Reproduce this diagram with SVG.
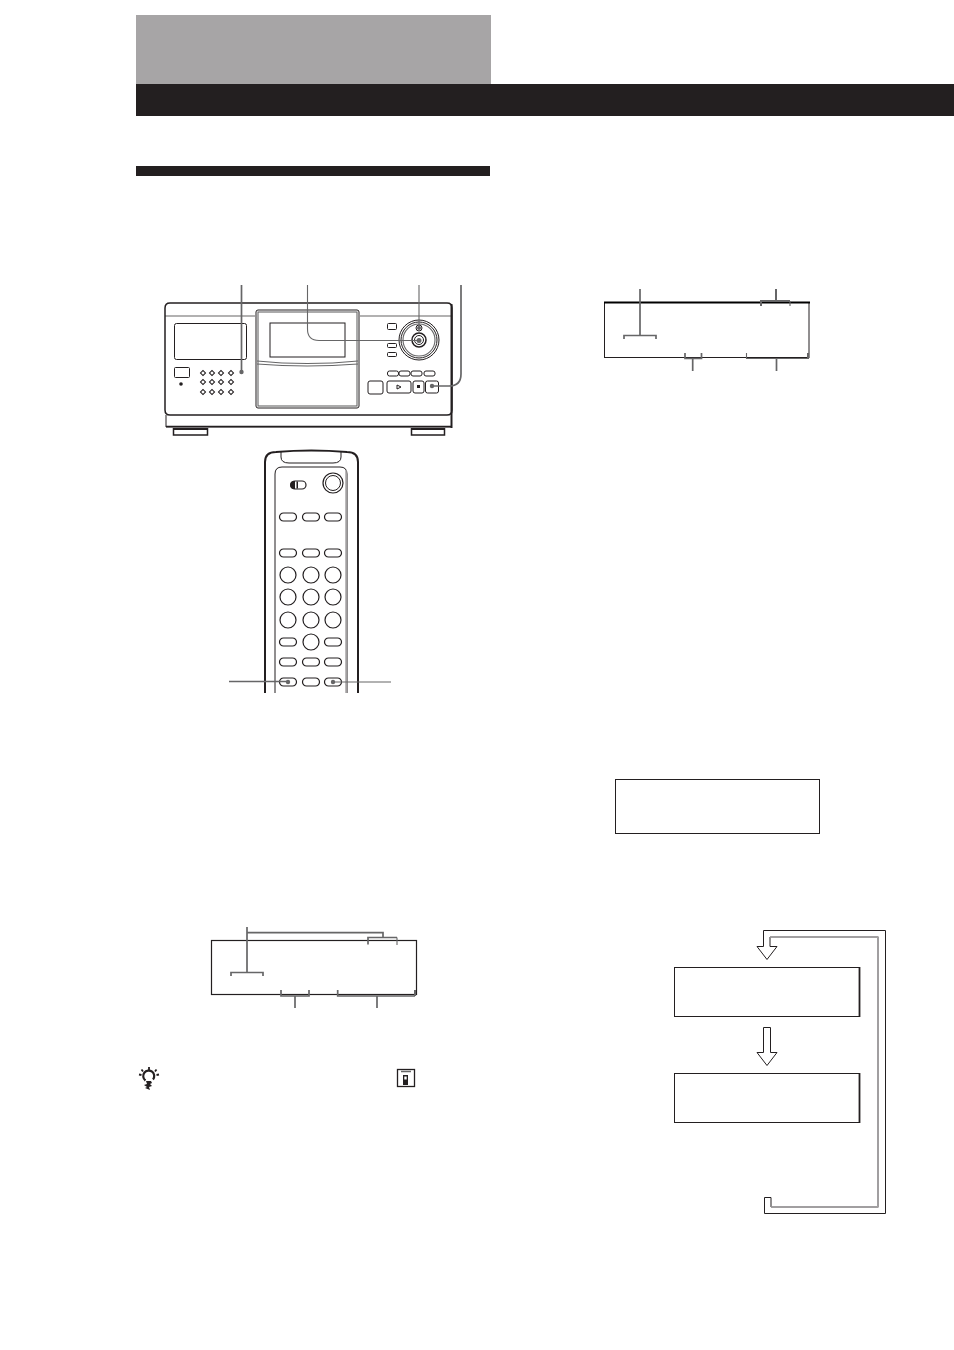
<svg xmlns="http://www.w3.org/2000/svg" width="954" height="1350" viewBox="0 0 954 1350">
<style>
.k{fill:none;stroke:#231f20;stroke-width:1}
.k2{fill:none;stroke:#231f20;stroke-width:1.5}
.g{fill:none;stroke:#666667;stroke-width:1.7}
.g1{fill:none;stroke:#666667;stroke-width:1.1}
.w{fill:#fff;stroke:#231f20;stroke-width:1}
.p{fill:#fff;stroke:#231f20;stroke-width:1.2}
.d{fill:#666667}
.a{fill:#fff;stroke:#231f20;stroke-width:1}
</style>
<defs>
<rect id="pill" x="-8.500" y="-4" width="17" height="8" rx="4" class="p"/>
<circle id="btn" r="8" class="p"/>
<rect id="dot" x="-1.800" y="-1.800" width="3.600" height="3.600" transform="rotate(45)" fill="#fff" stroke="#231f20" stroke-width="1"/>
</defs>
<rect width="954" height="1350" fill="#fff"/>
<g id="header">
<rect x="136" y="15" width="355" height="69" fill="#a7a5a6"/>
<rect x="136" y="84" width="818" height="32" fill="#231f20"/>
<rect x="136" y="166" width="354" height="10" fill="#231f20"/>
</g>
<g id="player">
<path d="M165 410V308Q165 303 170 303H447Q452 303 452 308V410Q452 415 447 415H170Q165 415 165 410Z" fill="#fff" stroke="#231f20" stroke-width="1.500"/>
<path d="M165 316H255M360 316H452" stroke="#231f20" stroke-width=".7"/>
<path d="M166 415V427H451" class="k"/>
<path d="M451.500 304V428" stroke="#231f20" stroke-width="2" fill="none"/>
<path d="M166 426.500H452" stroke="#231f20" stroke-width="1.500"/>
<path d="M173.500 428V435H207.500V428M411.500 428V435H444.500V428" fill="#fff" stroke="#231f20" stroke-width="1.500"/>
<path d="M173 429H208M411 429H445" stroke="#231f20" stroke-width="1.800"/>
<rect x="174.500" y="323.500" width="72" height="36" rx="2" class="k"/>
<rect x="256" y="310" width="103" height="98" rx="2" class="k"/>
<rect x="258" y="312" width="99" height="94" class="g1"/>
<rect x="270" y="323" width="75" height="34" class="k"/>
<path class="g1" d="M257 361Q307 366 358 361M257 364Q307 368 358 364"/>
<rect x="174.500" y="367.500" width="15" height="10" rx="1" class="k"/>
<circle cx="181" cy="384" r="1.800" fill="#231f20"/>
<g id="player-keys">
<use href="#dot" x="203" y="373"/><use href="#dot" x="212" y="373"/><use href="#dot" x="221" y="373"/><use href="#dot" x="231" y="373"/>
<use href="#dot" x="203" y="382"/><use href="#dot" x="212" y="382"/><use href="#dot" x="221" y="382"/><use href="#dot" x="231" y="382"/>
<use href="#dot" x="203" y="392"/><use href="#dot" x="212" y="392"/><use href="#dot" x="221" y="392"/><use href="#dot" x="231" y="392"/>
</g>
<rect x="387.500" y="323.500" width="9" height="6" rx="1" class="k"/>
<rect x="387.500" y="343.500" width="9" height="4" rx="1" class="k"/>
<rect x="387.500" y="352.500" width="9" height="4" rx="1" class="k"/>
<circle cx="419" cy="340" r="20" class="k"/>
<circle cx="419" cy="340" r="18" class="k"/>
<circle cx="419" cy="340" r="16" class="g1"/>
<circle cx="419" cy="340" r="7" class="k2"/>
<circle cx="419" cy="340" r="4.500" class="k"/>
<circle cx="419" cy="328" r="3" class="k"/>
<rect x="387.500" y="371" width="11" height="5" rx="2" class="k"/><rect x="399" y="371" width="11" height="5" rx="2" class="k"/><rect x="411" y="371" width="11" height="5" rx="2" class="k"/><rect x="424" y="371" width="11" height="5" rx="2" class="k"/>
<rect x="368" y="381" width="15" height="13" rx="2" class="k"/>
<rect x="387" y="381" width="24" height="12" rx="2" class="k"/>
<rect x="413" y="381" width="11" height="12" rx="2" class="k"/>
<rect x="425.500" y="381" width="13" height="12" rx="2" class="k"/>
<path d="M397 385l4 2-4 2z" class="k"/>
<rect x="417" y="385" width="3" height="3" fill="#231f20"/>
</g>
<g id="remote">
<path d="M265 693V462Q265 452 276 452Q311 449 347 452Q358 452 358 462V693" fill="#fff" stroke="#231f20" stroke-width="2"/>
<path d="M281 452V457Q281 463 289 463H333Q341 463 341 457V452" class="k"/>
<path d="M275 693V474Q275 467 282 467H340Q347 467 347 474V693" class="k"/>
<path d="M346 470V693" stroke="#a7a5a6" stroke-width="1.500"/>
<rect x="291" y="481" width="15" height="8" rx="4" class="p"/>
<path d="M295 481h-1a4 4 0 0 0 0 8h1zM296.500 481.500h1.500v7h-1.500z" fill="#231f20"/>
<circle cx="333" cy="483" r="10" fill="#fff" stroke="#231f20" stroke-width="1.200"/>
<circle cx="333" cy="483" r="7.500" class="k"/>
<use href="#pill" x="288" y="517"/><use href="#pill" x="311" y="517"/><use href="#pill" x="333" y="517"/>
<use href="#pill" x="288" y="553"/><use href="#pill" x="311" y="553"/><use href="#pill" x="333" y="553"/>
<use href="#btn" x="288" y="575"/><use href="#btn" x="311" y="575"/><use href="#btn" x="333" y="575"/>
<use href="#btn" x="288" y="597"/><use href="#btn" x="311" y="597"/><use href="#btn" x="333" y="597"/>
<use href="#btn" x="288" y="620"/><use href="#btn" x="311" y="620"/><use href="#btn" x="333" y="620"/>
<use href="#pill" x="288" y="642"/><use href="#btn" x="311" y="642"/><use href="#pill" x="333" y="642"/>
<use href="#pill" x="288" y="662"/><use href="#pill" x="311" y="662"/><use href="#pill" x="333" y="662"/>
<use href="#pill" x="288" y="682"/><use href="#pill" x="311" y="682"/><use href="#pill" x="333" y="682"/>
</g>
<g id="display-top">
<rect x="604.500" y="302.500" width="204.500" height="55" fill="#fff" stroke="#231f20" stroke-width="1"/>
<path d="M604 302.500H810" stroke="#000" stroke-width="2"/>
</g>
<g id="display-bottom">
<rect x="211.500" y="940.500" width="205" height="54" fill="#fff" stroke="#231f20" stroke-width="1.200"/>
</g>
<g id="display-note"><rect x="615.500" y="779.500" width="204" height="54" fill="#fff" stroke="#231f20" stroke-width="1"/></g>
<g id="display-a"><rect x="674.500" y="967.500" width="185" height="49" fill="#fff" stroke="#231f20" stroke-width="1"/><path d="M859.500 967V1017" stroke="#231f20" stroke-width="1.800"/></g>
<g id="display-b"><rect x="674.500" y="1073.500" width="185" height="49" fill="#fff" stroke="#231f20" stroke-width="1"/><path d="M859.500 1073V1123" stroke="#231f20" stroke-width="1.800"/></g>
<g id="connectors">
<path class="g" d="M241.500 285V372"/><circle class="d" cx="241.500" cy="372" r="2.200"/>
<path class="g1" d="M307.500 285V329Q307.500 340.500 319 340.500H419"/><circle class="d" cx="419" cy="340.500" r="2.500"/>
<path class="g1" d="M419 285V328"/><circle class="d" cx="419" cy="328" r="2"/>
<path class="g" d="M461 285V374Q461 386 449 386H432"/><circle class="d" cx="432" cy="386" r="2.200"/>
<path class="g" d="M229 681.500H288"/><circle class="d" cx="288" cy="682" r="2.200"/>
<path class="g1" d="M333 682H391"/><circle class="d" cx="333" cy="682" r="2.200"/>
<path class="g" d="M640 289V336M624 339V335.500H656V339"/>
<path d="M776 289V301" stroke="#666667" stroke-width="2"/>
<path d="M761 306V301H790" fill="none" stroke="#666667" stroke-width="2"/><path d="M790 301V306" class="g1"/>
<path class="g" d="M685 353V358.500H701.500V353M692.700 359V371"/>
<path class="g1" d="M746.500 353V358.500H808"/><path d="M808 353V359" stroke="#666667" stroke-width="2"/><path class="g" d="M776.500 359V371"/>
<path class="g" d="M247 927V972.500M231 976V972.500H263V976M247 932.700H383V938M368 944.500V937.500H397"/><path class="g1" d="M397 937.500V945"/>
<path class="g" d="M281 990V996H309V990M295 996V1008M337.700 990V996H415"/><path d="M415 990V996" stroke="#666667" stroke-width="2"/><path class="g" d="M377 996V1008"/>
</g>
<g id="arrows">
<path class="a" d="M763.500 930.500H885.500V1213.500H764.500V1197.500H771V1207H878V937H770V946.500H777L767 959.500L757 946.500H763.500Z"/>
<path d="M770 937H878V1207H771" fill="none" stroke="#a7a5a6" stroke-width="1.500"/>
<path class="a" d="M763.500 1027.500H770.500V1052.500H777L767 1065.500L757 1052.500H763.500Z"/>
</g>
<g id="tip-icon">
<path d="M145.500 1080.500A5.500 5.500 0 1 1 153 1079.500" fill="none" stroke="#231f20" stroke-width="2.200"/>
<path d="M146 1081h5l1 2-2 1 2 2-3 1 1 3-5-2 2-1-3-2 3-1z" fill="#231f20"/>
<path d="M149 1067v3M141.500 1069.500l1.500 2M156.500 1069.500l-1.500 2M139 1074.500l2.500 .5M159 1074.500l-2.500 .5" stroke="#231f20" stroke-width="1.800"/>
</g>
<g id="remote-icon">
<rect x="397.500" y="1069.500" width="17" height="17" fill="#fff" stroke="#231f20" stroke-width="1.300"/>
<rect x="403" y="1075" width="5" height="10" fill="#231f20"/>
<rect x="404.300" y="1076.500" width="2.400" height="3" fill="#fff"/>
<path d="M401 1071.500h10" stroke="#666667" stroke-width="1.500"/>
</g>
</svg>
